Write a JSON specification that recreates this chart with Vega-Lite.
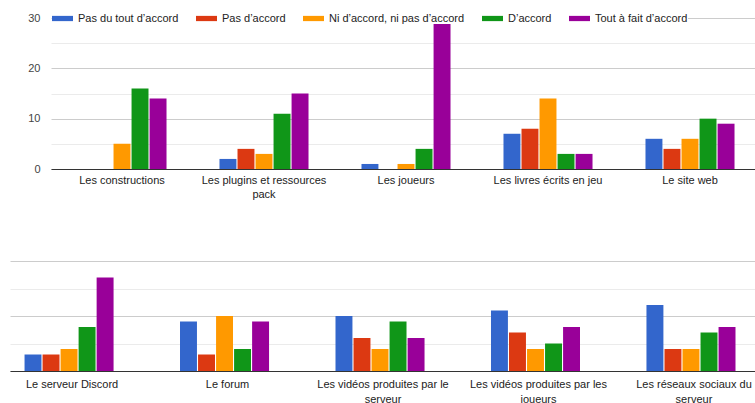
{
  "$schema": "https://vega.github.io/schema/vega-lite/v6.json",
  "padding": {"left": 10, "top": 8, "right": 0, "bottom": 0},
  "background": "white",
  "config": {
    "font": "Liberation Sans",
    "view": {"stroke": null},
    "axis": {"labelFont": "Liberation Sans", "labelFontSize": 11, "labelColor": "#222222", "title": null},
    "legend": {"labelFont": "Liberation Sans"}
  },
  "datasets": {
    "d": [
      {"panel": 1, "item": "Les constructions", "response": "Pas du tout d’accord", "count": 0},
      {"panel": 1, "item": "Les constructions", "response": "Pas d’accord", "count": 0},
      {"panel": 1, "item": "Les constructions", "response": "Ni d’accord, ni pas d’accord", "count": 5},
      {"panel": 1, "item": "Les constructions", "response": "D’accord", "count": 16},
      {"panel": 1, "item": "Les constructions", "response": "Tout à fait d’accord", "count": 14},
      {"panel": 1, "item": "Les plugins et ressources pack", "response": "Pas du tout d’accord", "count": 2},
      {"panel": 1, "item": "Les plugins et ressources pack", "response": "Pas d’accord", "count": 4},
      {"panel": 1, "item": "Les plugins et ressources pack", "response": "Ni d’accord, ni pas d’accord", "count": 3},
      {"panel": 1, "item": "Les plugins et ressources pack", "response": "D’accord", "count": 11},
      {"panel": 1, "item": "Les plugins et ressources pack", "response": "Tout à fait d’accord", "count": 15},
      {"panel": 1, "item": "Les joueurs", "response": "Pas du tout d’accord", "count": 1},
      {"panel": 1, "item": "Les joueurs", "response": "Pas d’accord", "count": 0},
      {"panel": 1, "item": "Les joueurs", "response": "Ni d’accord, ni pas d’accord", "count": 1},
      {"panel": 1, "item": "Les joueurs", "response": "D’accord", "count": 4},
      {"panel": 1, "item": "Les joueurs", "response": "Tout à fait d’accord", "count": 29},
      {"panel": 1, "item": "Les livres écrits en jeu", "response": "Pas du tout d’accord", "count": 7},
      {"panel": 1, "item": "Les livres écrits en jeu", "response": "Pas d’accord", "count": 8},
      {"panel": 1, "item": "Les livres écrits en jeu", "response": "Ni d’accord, ni pas d’accord", "count": 14},
      {"panel": 1, "item": "Les livres écrits en jeu", "response": "D’accord", "count": 3},
      {"panel": 1, "item": "Les livres écrits en jeu", "response": "Tout à fait d’accord", "count": 3},
      {"panel": 1, "item": "Le site web", "response": "Pas du tout d’accord", "count": 6},
      {"panel": 1, "item": "Le site web", "response": "Pas d’accord", "count": 4},
      {"panel": 1, "item": "Le site web", "response": "Ni d’accord, ni pas d’accord", "count": 6},
      {"panel": 1, "item": "Le site web", "response": "D’accord", "count": 10},
      {"panel": 1, "item": "Le site web", "response": "Tout à fait d’accord", "count": 9},
      {"panel": 2, "item": "Le serveur Discord", "response": "Pas du tout d’accord", "count": 3},
      {"panel": 2, "item": "Le serveur Discord", "response": "Pas d’accord", "count": 3},
      {"panel": 2, "item": "Le serveur Discord", "response": "Ni d’accord, ni pas d’accord", "count": 4},
      {"panel": 2, "item": "Le serveur Discord", "response": "D’accord", "count": 8},
      {"panel": 2, "item": "Le serveur Discord", "response": "Tout à fait d’accord", "count": 17},
      {"panel": 2, "item": "Le forum", "response": "Pas du tout d’accord", "count": 9},
      {"panel": 2, "item": "Le forum", "response": "Pas d’accord", "count": 3},
      {"panel": 2, "item": "Le forum", "response": "Ni d’accord, ni pas d’accord", "count": 10},
      {"panel": 2, "item": "Le forum", "response": "D’accord", "count": 4},
      {"panel": 2, "item": "Le forum", "response": "Tout à fait d’accord", "count": 9},
      {"panel": 2, "item": "Les vidéos produites par le serveur", "response": "Pas du tout d’accord", "count": 10},
      {"panel": 2, "item": "Les vidéos produites par le serveur", "response": "Pas d’accord", "count": 6},
      {"panel": 2, "item": "Les vidéos produites par le serveur", "response": "Ni d’accord, ni pas d’accord", "count": 4},
      {"panel": 2, "item": "Les vidéos produites par le serveur", "response": "D’accord", "count": 9},
      {"panel": 2, "item": "Les vidéos produites par le serveur", "response": "Tout à fait d’accord", "count": 6},
      {"panel": 2, "item": "Les vidéos produites par les joueurs", "response": "Pas du tout d’accord", "count": 11},
      {"panel": 2, "item": "Les vidéos produites par les joueurs", "response": "Pas d’accord", "count": 7},
      {"panel": 2, "item": "Les vidéos produites par les joueurs", "response": "Ni d’accord, ni pas d’accord", "count": 4},
      {"panel": 2, "item": "Les vidéos produites par les joueurs", "response": "D’accord", "count": 5},
      {"panel": 2, "item": "Les vidéos produites par les joueurs", "response": "Tout à fait d’accord", "count": 8},
      {"panel": 2, "item": "Les réseaux sociaux du serveur", "response": "Pas du tout d’accord", "count": 12},
      {"panel": 2, "item": "Les réseaux sociaux du serveur", "response": "Pas d’accord", "count": 4},
      {"panel": 2, "item": "Les réseaux sociaux du serveur", "response": "Ni d’accord, ni pas d’accord", "count": 4},
      {"panel": 2, "item": "Les réseaux sociaux du serveur", "response": "D’accord", "count": 7},
      {"panel": 2, "item": "Les réseaux sociaux du serveur", "response": "Tout à fait d’accord", "count": 8}
    ]
  },
  "data": {"name": "d"},
  "spacing": 62,
  "vconcat": [
    {
      "spacing": 0,
      "hconcat": [
        {
          "data": {"values": []},
          "width": 1,
          "height": 151,
          "mark": {"type": "point", "opacity": 0}
        },
        {
          "transform": [{"filter": "datum.panel == 1"}],
          "width": 710,
          "height": 151,
          "mark": {"type": "bar"},
          "encoding": {
            "x": {
              "field": "item", "type": "nominal", "sort": null,
              "scale": {"paddingInner": 0.373, "paddingOuter": 0.1865},
              "axis": {
                "labelAngle": 0, "ticks": false, "domainColor": "#333333", "labelPadding": 5, "labelLineHeight": 14, "labelLimit": 300,
                "labelExpr": "datum.label == 'Les plugins et ressources pack' ? ['Les plugins et ressources', 'pack'] : datum.label"
              }
            },
            "xOffset": {
              "field": "response", "type": "nominal",
              "sort": ["Pas du tout d’accord", "Pas d’accord", "Ni d’accord, ni pas d’accord", "D’accord", "Tout à fait d’accord"],
              "scale": {"paddingInner": 0.06, "paddingOuter": 0}
            },
            "y": {
              "field": "count", "type": "quantitative",
              "scale": {"domain": [0, 30], "nice": false},
              "axis": {
                "values": [0, 5, 10, 15, 20, 25, 30],
                "labelExpr": "datum.value % 10 == 0 ? datum.label : ''",
                "domain": false, "ticks": false, "labelPadding": 11, "minExtent": 40, "maxExtent": 40,
                "labelColor": "#444444",
                "gridColor": {"condition": {"test": "datum.value % 10 == 0", "value": "#cccccc"}, "value": "#ebebeb"}
              }
            },
            "color": {
              "field": "response", "type": "nominal",
              "scale": {
                "domain": ["Pas du tout d’accord", "Pas d’accord", "Ni d’accord, ni pas d’accord", "D’accord", "Tout à fait d’accord"],
                "range": ["#3366cc", "#dc3912", "#ff9900", "#109618", "#990099"]
              },
              "legend": {
                "orient": "none", "legendX": 42, "legendY": -10, "direction": "horizontal", "title": null,
                "fillColor": "white", "padding": 0,
                "symbolType": "M-1,-0.25H1V0.25H-1Z", "symbolSize": 441, "symbolStrokeWidth": 0, "symbolOpacity": 1,
                "labelFontSize": 11, "labelColor": "#222222", "labelOffset": 5, "columnPadding": 17, "gridAlign": "none"
              }
            }
          }
        }
      ]
    },
    {
      "transform": [{"filter": "datum.panel == 2"}],
      "width": 746,
      "height": 110,
      "mark": {"type": "bar"},
      "encoding": {
        "x": {
          "field": "item", "type": "nominal", "sort": null,
          "scale": {"paddingInner": 0.389, "paddingOuter": 0.0935},
          "axis": {
            "labelAngle": 0, "ticks": false, "domainColor": "#333333", "labelPadding": 7, "labelLineHeight": 15, "labelLimit": 300,
            "labelExpr": "datum.label == 'Les vidéos produites par le serveur' ? ['Les vidéos produites par le', 'serveur'] : datum.label == 'Les vidéos produites par les joueurs' ? ['Les vidéos produites par les', 'joueurs'] : datum.label == 'Les réseaux sociaux du serveur' ? ['Les réseaux sociaux du', 'serveur'] : datum.label"
          }
        },
        "xOffset": {
          "field": "response", "type": "nominal",
          "sort": ["Pas du tout d’accord", "Pas d’accord", "Ni d’accord, ni pas d’accord", "D’accord", "Tout à fait d’accord"],
          "scale": {"paddingInner": 0.06, "paddingOuter": 0}
        },
        "y": {
          "field": "count", "type": "quantitative",
          "scale": {"domain": [0, 20], "nice": false},
          "axis": {
            "values": [0, 5, 10, 15, 20],
            "labels": false, "domain": false, "ticks": false, "minExtent": 0, "maxExtent": 0,
            "gridColor": {"condition": {"test": "datum.value % 10 == 0", "value": "#cccccc"}, "value": "#ebebeb"}
          }
        },
        "color": {
          "field": "response", "type": "nominal",
          "scale": {
            "domain": ["Pas du tout d’accord", "Pas d’accord", "Ni d’accord, ni pas d’accord", "D’accord", "Tout à fait d’accord"],
            "range": ["#3366cc", "#dc3912", "#ff9900", "#109618", "#990099"]
          },
          "legend": null
        }
      }
    }
  ]
}
